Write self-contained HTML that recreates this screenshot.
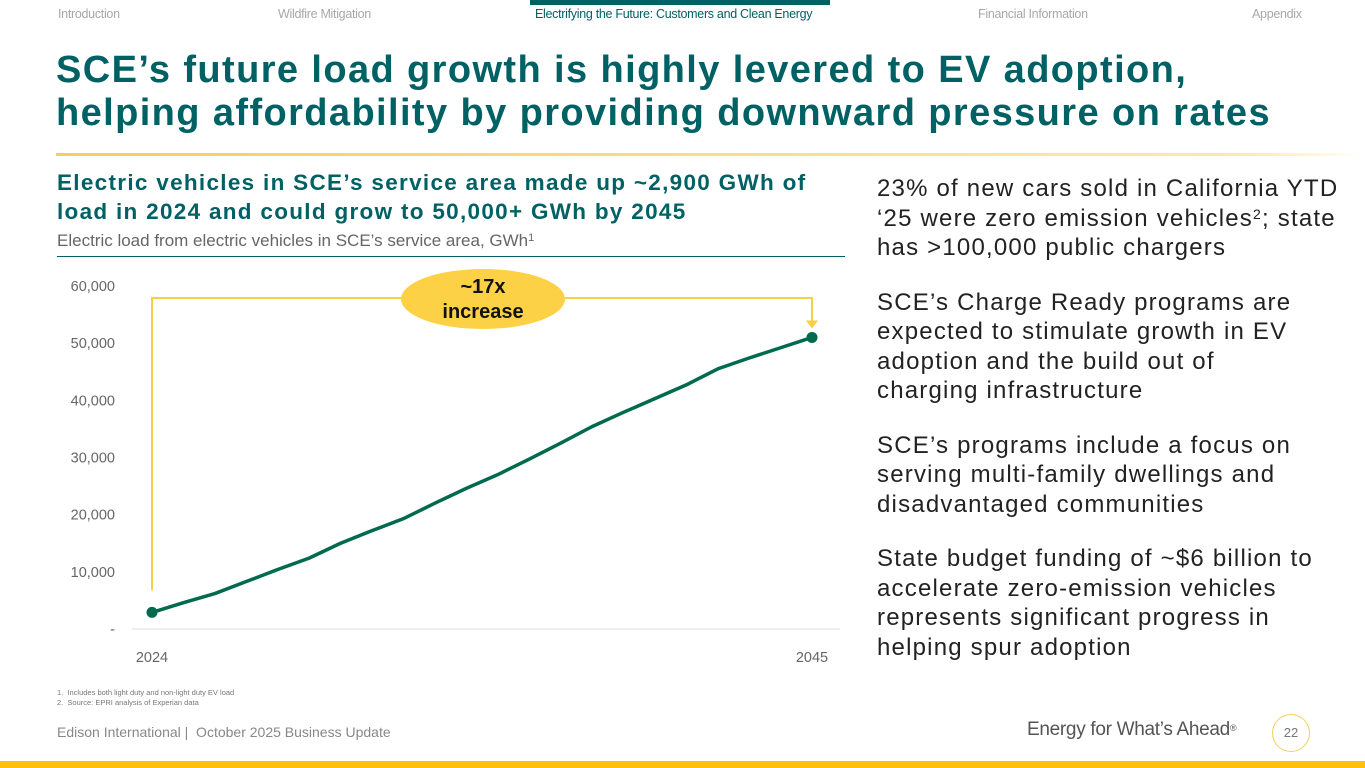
<!DOCTYPE html>
<html><head><meta charset="utf-8">
<style>
*{margin:0;padding:0;box-sizing:border-box}
body{width:1365px;height:768px;overflow:hidden;background:#fff;font-family:"Liberation Sans","DejaVu Sans",sans-serif;position:relative}
.abs{position:absolute;white-space:nowrap}
sup{line-height:0;vertical-align:0;position:relative;top:-0.5em}
.nav{top:7px;font-size:12.5px;color:#a8a8a8;letter-spacing:-0.3px}
h1{position:absolute;left:56px;top:49px;font-size:38px;line-height:43px;color:#006165;font-weight:bold;letter-spacing:1.4px;white-space:nowrap}
.sub{left:57px;top:168px;font-size:22.5px;line-height:29px;color:#006165;font-weight:bold;letter-spacing:1.3px}
.right{left:877px;top:174px;width:462px;font-size:24px;line-height:29.5px;color:#222;letter-spacing:1.2px;white-space:normal}
.right p{margin-bottom:25px}
</style></head><body>
<div class="abs" style="left:530px;top:0;width:300px;height:5px;background:#006165"></div>
<div class="abs nav" style="left:58px">Introduction</div>
<div class="abs nav" style="left:278px">Wildfire Mitigation</div>
<div class="abs nav" style="left:535px;color:#006165">Electrifying the Future: Customers and Clean Energy</div>
<div class="abs nav" style="left:978px">Financial Information</div>
<div class="abs nav" style="left:1252px">Appendix</div>
<h1>SCE’s future load growth is highly levered to EV adoption,<br>helping affordability by providing downward pressure on rates</h1>
<div class="abs" style="left:56px;top:153px;width:1309px;height:3px;background:linear-gradient(90deg,#f5cf5a,#fde9a8 90%,#fff)"></div>
<div class="abs sub">Electric vehicles in SCE’s service area made up ~2,900 GWh of<br>load in 2024 and could grow to 50,000+ GWh by 2045</div>
<div class="abs" style="left:57px;top:231px;font-size:17px;color:#666">Electric load from electric vehicles in SCE’s service area, GWh<sup style="font-size:11px">1</sup></div>
<div class="abs" style="left:57px;top:256px;width:788px;height:1px;background:#006165"></div>
<svg class="abs" id="chart" style="left:0;top:0" width="860" height="680"></svg>
<div class="abs right">
<p>23% of new cars sold in California YTD ‘25 were zero emission vehicles<sup style="font-size:14px">2</sup>; state has &gt;100,000 public chargers</p>
<p>SCE’s Charge Ready programs are expected to stimulate growth in EV adoption and the build out of<br>charging infrastructure</p>
<p>SCE’s programs include a focus on serving multi-family dwellings and disadvantaged communities</p>
<p>State budget funding of ~$6 billion to accelerate zero-emission vehicles represents significant progress in helping spur adoption</p>
</div>
<div class="abs" style="left:57px;top:688px;font-size:7.5px;line-height:10px;color:#777">1.&nbsp;&nbsp;Includes both light duty and non-light duty EV load<br>2.&nbsp;&nbsp;Source: EPRI analysis of Experian data</div>
<div class="abs" style="left:57px;top:724px;font-size:14px;color:#888">Edison International |&nbsp; October 2025 Business Update</div>
<div class="abs" style="left:1027px;top:719px;font-size:19px;color:#555;letter-spacing:-0.3px">Energy for What’s Ahead<sup style="font-size:9px">®</sup></div>
<div class="abs" style="left:1272px;top:714px;width:38px;height:38px;border:1.5px solid #f5cf5a;border-radius:50%;text-align:center;line-height:35px;font-size:13px;color:#777">22</div>
<div class="abs" style="left:0;top:761px;width:1365px;height:7px;background:#fec20e"></div>
<script>
const years=[2024,2025,2026,2027,2028,2029,2030,2031,2032,2033,2034,2035,2036,2037,2038,2039,2040,2041,2042,2043,2044,2045];
const values=[2900,4600,6200,8300,10400,12400,15000,17200,19300,22000,24600,27000,29700,32500,35400,37900,40300,42700,45500,47400,49200,51000];
const yTicks=[0,10000,20000,30000,40000,50000,60000];
const yTickLabels=["-","10,000","20,000","30,000","40,000","50,000","60,000"];
const xLabels=["2024","2045"];
const NS="http://www.w3.org/2000/svg";
const svg=document.getElementById('chart');
const x0=152,x1=812,y0=629,y1=286;
const xs=i=>x0+(x1-x0)*i/(years.length-1);
const ys=v=>y0-(y0-y1)*v/60000;
function mk(t,a){const e=document.createElementNS(NS,t);for(const k in a)e.setAttribute(k,a[k]);svg.appendChild(e);return e;}
const base=mk('line',{x1:132,x2:840,y1:y0,y2:y0,stroke:'#ddd','stroke-width':1});


yTicks.forEach((v,i)=>{const t=mk('text',{x:115,y:ys(v)+5,'text-anchor':'end','font-size':14.5,fill:'#666','font-family':'Liberation Sans, sans-serif'});t.textContent=yTickLabels[i];

});
[0,years.length-1].forEach((i,k)=>{const t=mk('text',{x:xs(i),y:662,'text-anchor':'middle','font-size':14.5,fill:'#666','font-family':'Liberation Sans, sans-serif'});t.textContent=xLabels[k];

});
const by=ys(60000)+12;
const br=mk('polyline',{points:`${xs(0)},${ys(values[0])-22} ${xs(0)},${by} ${xs(years.length-1)},${by} ${xs(years.length-1)},${ys(values[values.length-1])-14}`,fill:'none',stroke:'#f8cf48','stroke-width':2});


const xe=xs(years.length-1),ye=ys(values[values.length-1]);
const ar=mk('polygon',{points:`${xe-6},${ye-17} ${xe+6},${ye-17} ${xe},${ye-9}`,fill:'#f8cf48'});


const el=mk('ellipse',{cx:483,cy:299,rx:82,ry:30,fill:'#fdd145'});


const t1=mk('text',{x:483,y:293,'text-anchor':'middle','font-size':20,'font-weight':'bold',fill:'#111','font-family':'Liberation Sans, sans-serif'});t1.textContent='~17x';


const t2=mk('text',{x:483,y:318,'text-anchor':'middle','font-size':20,'font-weight':'bold',fill:'#111','font-family':'Liberation Sans, sans-serif'});t2.textContent='increase';


const ln=mk('polyline',{points:values.map((v,i)=>xs(i)+','+ys(v)).join(' '),fill:'none',stroke:'#006a4e','stroke-width':3.5,'stroke-linejoin':'round'});


[0,values.length-1].forEach(i=>{const c=mk('circle',{cx:xs(i),cy:ys(values[i]),r:5.5,fill:'#006a4e'});

});
</script>
</body></html>
